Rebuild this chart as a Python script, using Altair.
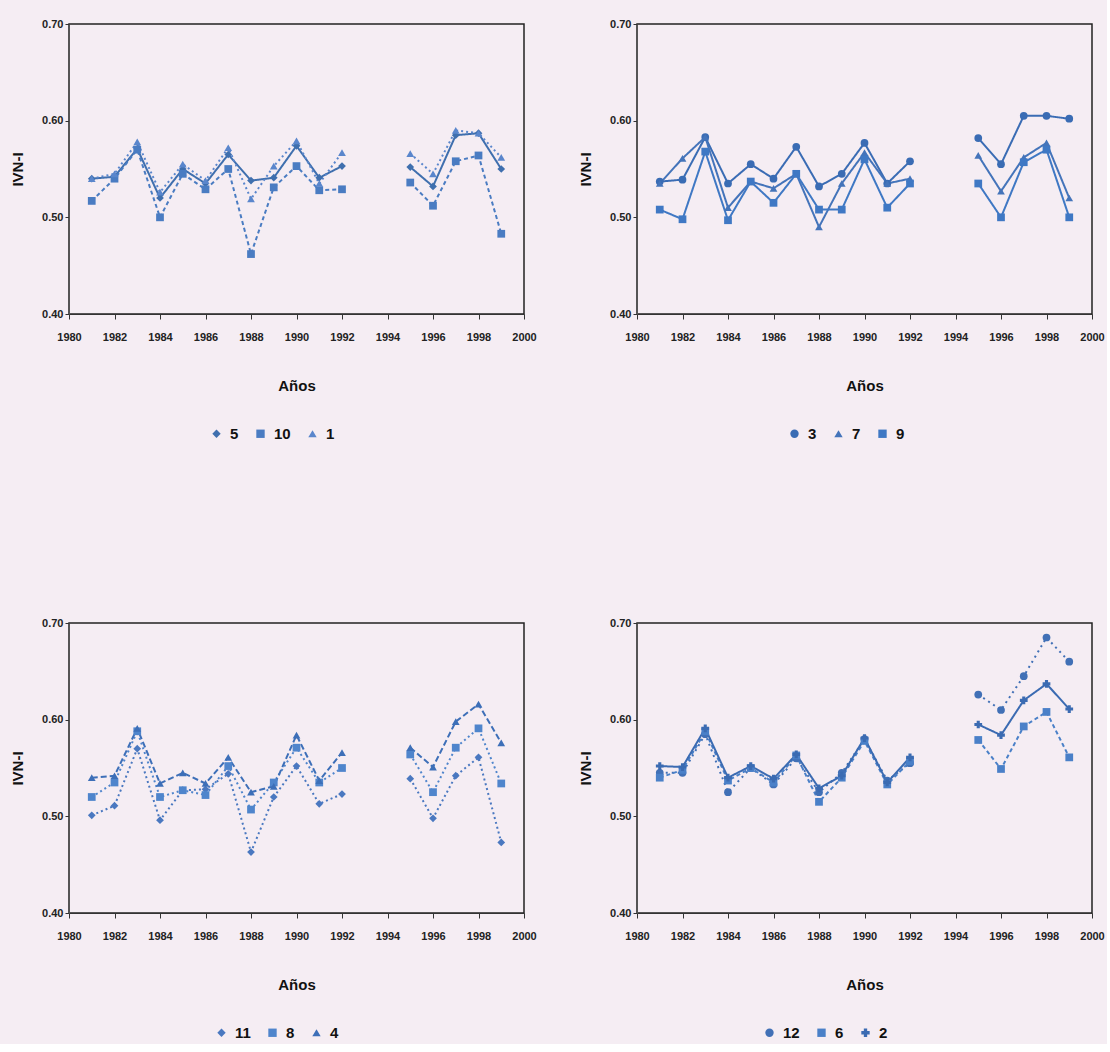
import altair as alt
import pandas as pd

years = [1981, 1982, 1983, 1984, 1985, 1986, 1987, 1988, 1989, 1990, 1991, 1992,
         1995, 1996, 1997, 1998, 1999]

# Panel 1 (top-left)
p1_names = ["5", "10", "1"]
p1_s5 = [0.540, 0.542, 0.571, 0.520, 0.550, 0.535, 0.565, 0.538, 0.541, 0.574, 0.541, 0.553,
         0.552, 0.532, 0.585, 0.587, 0.550]
p1_s10 = [0.517, 0.540, 0.570, 0.500, 0.545, 0.529, 0.550, 0.462, 0.531, 0.553, 0.528, 0.529,
          0.536, 0.512, 0.558, 0.564, 0.483]
p1_s1 = [0.540, 0.545, 0.578, 0.526, 0.555, 0.538, 0.572, 0.519, 0.553, 0.579, 0.535, 0.567,
         0.566, 0.545, 0.590, 0.587, 0.562]

# Panel 2 (top-right)
p2_names = ["3", "7", "9"]
p2_s3 = [0.537, 0.539, 0.583, 0.535, 0.555, 0.540, 0.573, 0.532, 0.545, 0.577, 0.535, 0.558,
         0.582, 0.555, 0.605, 0.605, 0.602]
p2_s7 = [0.535, 0.561, 0.583, 0.510, 0.537, 0.530, 0.545, 0.490, 0.535, 0.567, 0.535, 0.540,
         0.564, 0.527, 0.562, 0.577, 0.520]
p2_s9 = [0.508, 0.498, 0.568, 0.497, 0.537, 0.515, 0.545, 0.508, 0.508, 0.560, 0.510, 0.535,
         0.535, 0.500, 0.557, 0.570, 0.500]

# Panel 3 (bottom-left)
p3_names = ["11", "8", "4"]
p3_s11 = [0.501, 0.511, 0.570, 0.496, 0.527, 0.528, 0.544, 0.463, 0.520, 0.552, 0.513, 0.523,
          0.539, 0.498, 0.542, 0.561, 0.473]
p3_s8 = [0.520, 0.535, 0.588, 0.520, 0.527, 0.522, 0.552, 0.507, 0.535, 0.571, 0.535, 0.550,
         0.564, 0.525, 0.571, 0.591, 0.534]
p3_s4 = [0.540, 0.542, 0.591, 0.534, 0.545, 0.534, 0.561, 0.525, 0.531, 0.584, 0.537, 0.566,
         0.571, 0.551, 0.598, 0.616, 0.576]

# Panel 4 (bottom-right)
p4_names = ["12", "6", "2"]
p4_s12 = [0.545, 0.545, 0.585, 0.525, 0.550, 0.533, 0.560, 0.525, 0.545, 0.580, 0.537, 0.555,
          0.626, 0.610, 0.645, 0.685, 0.660]
p4_s6 = [0.540, 0.548, 0.588, 0.537, 0.550, 0.535, 0.563, 0.515, 0.540, 0.578, 0.533, 0.557,
         0.579, 0.549, 0.593, 0.608, 0.561]
p4_s2 = [0.552, 0.551, 0.591, 0.540, 0.552, 0.539, 0.564, 0.529, 0.542, 0.581, 0.535, 0.561,
         0.595, 0.584, 0.620, 0.637, 0.611]

FONT = "Liberation Sans"
BG = "#f5edf3"


def build_df(names, series):
    rows = []
    for name, vals in zip(names, series):
        for yr, v in zip(years, vals):
            rows.append({"serie": name, "anio": yr, "ivn": v,
                         "tramo": name + ("a" if yr < 1994 else "b")})
    return pd.DataFrame(rows)


def panel(names, series, colors, dashes, shapes, legend_x):
    df = build_df(names, series)
    x = alt.X("anio:Q", title="Años",
              scale=alt.Scale(domain=[1980, 2000], nice=False, zero=False),
              axis=alt.Axis(values=list(range(1980, 2001, 2)), format="d",
                            labelFont=FONT, labelFontSize=11, labelFontWeight="bold",
                            labelColor="#222", labelOverlap=False, labelFlush=False,
                            titleFont=FONT, titleFontSize=15,
                            titleFontWeight="bold", titleColor="#111", titlePadding=36,
                            tickColor="#333", domainColor="#333", tickSize=5,
                            labelPadding=12, grid=False))
    y = alt.Y("ivn:Q", title="IVN-I",
              scale=alt.Scale(domain=[0.40, 0.70], nice=False, zero=False),
              axis=alt.Axis(values=[0.40, 0.50, 0.60, 0.70], format=".2f",
                            labelFont=FONT, labelFontSize=11, labelFontWeight="bold",
                            labelColor="#222", labelFlush=False,
                            titleFont=FONT, titleFontSize=15,
                            titleFontWeight="bold", titleColor="#111", titlePadding=16,
                            tickColor="#333", domainColor="#555", tickSize=4, grid=False))
    leg = alt.Legend(orient="none", direction="horizontal", title=None,
                     legendX=legend_x, legendY=402,
                     labelFont=FONT, labelFontSize=15, labelFontWeight="bold",
                     labelColor="#111", symbolSize=70, symbolStrokeWidth=0,
                     columnPadding=14, labelOffset=6)
    color = alt.Color("serie:N", sort=names,
                      scale=alt.Scale(domain=names, range=colors), legend=leg)
    dash = alt.StrokeDash("serie:N", sort=names,
                          scale=alt.Scale(domain=names, range=dashes), legend=None)
    shape = alt.Shape("serie:N", sort=names,
                      scale=alt.Scale(domain=names, range=shapes), legend=leg)
    base = alt.Chart(df)
    line = base.mark_line(strokeWidth=2).encode(
        x=x, y=y, color=color, strokeDash=dash, detail="tramo:N")
    pts = base.mark_point(filled=True, size=60, opacity=1).encode(
        x=x, y=y, color=color, shape=shape)
    return alt.layer(line, pts).properties(width=455, height=290)


c1 = panel(p1_names, [p1_s5, p1_s10, p1_s1],
           ["#3f6fae", "#4a7cc2", "#5a86cc"],
           [[1, 0], [4, 3], [2, 3]],
           ["diamond", "square", "triangle-up"], 140)
c2 = panel(p2_names, [p2_s3, p2_s7, p2_s9],
           ["#3a6cb4", "#4474ba", "#3f78c4"],
           [[1, 0], [1, 0], [1, 0]],
           ["circle", "triangle-up", "square"], 150)
c3 = panel(p3_names, [p3_s11, p3_s8, p3_s4],
           ["#4a78c0", "#4f85cc", "#3d6fb8"],
           [[2, 3], [2, 3], [6, 3]],
           ["diamond", "square", "triangle-up"], 145)
c4 = panel(p4_names, [p4_s12, p4_s6, p4_s2],
           ["#4170b6", "#4a80c8", "#3b6bb2"],
           [[2, 4], [4, 3], [1, 0]],
           ["circle", "square", "cross"], 125)

top = alt.hconcat(c1, c2, spacing=40).resolve_scale(
    color="independent", strokeDash="independent", shape="independent")
bottom = alt.hconcat(c3, c4, spacing=40).resolve_scale(
    color="independent", strokeDash="independent", shape="independent")

chart = alt.vconcat(top, bottom, spacing=173).resolve_scale(
    color="independent", strokeDash="independent", shape="independent"
).properties(
    background=BG,
    padding={"left": 9, "top": 17, "right": 2, "bottom": 2}
).configure_view(
    stroke="#222", strokeWidth=1.5, fill=BG
)

chart.save("out.html", embed_options={"renderer": "svg", "actions": False})
